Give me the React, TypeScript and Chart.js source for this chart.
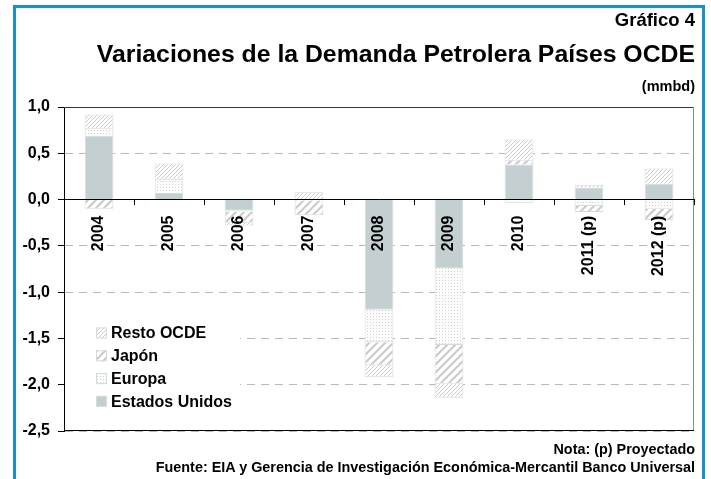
import React, { useEffect, useRef } from "react";
import { Chart, registerables } from "chart.js";

Chart.register(...registerables);

const categories = ["2004", "2005", "2006", "2007", "2008", "2009", "2010", "2011 (p)", "2012 (p)"];
const estadosUnidos = [0.69, 0.07, -0.12, 0.0, -1.19, -0.74, 0.38, 0.13, 0.17];
const europa = [0.08, 0.15, -0.01, -0.01, -0.35, -0.83, -0.04, -0.07, -0.1];
const japon = [-0.1, 0.01, -0.12, -0.16, -0.25, -0.42, 0.05, -0.065, -0.12];
const restoOCDE = [0.15, 0.16, -0.03, 0.08, -0.13, -0.15, 0.22, 0.03, 0.165];
const legendLabels = ["Resto OCDE", "Japón", "Europa", "Estados Unidos"];
const yMin = -2.5;
const yMax = 1.0;
const yStep = 0.5;

const FONT = "'Liberation Sans', Arial, Helvetica, sans-serif";
const US_COLOR = "#c3cfd0";
const BAR_BORDER = "#d2dcdd";

function makePattern(kind: string): CanvasPattern | string {
  const c = document.createElement("canvas");
  const ctx = c.getContext("2d");
  if (!ctx) return "#eee";
  if (kind === "fine") {
    c.width = 4;
    c.height = 4;
    ctx.fillStyle = "#ffffff";
    ctx.fillRect(0, 0, 4, 4);
    ctx.strokeStyle = "#cbcbcb";
    ctx.lineWidth = 1;
    ctx.beginPath();
    ctx.moveTo(-1, 5);
    ctx.lineTo(5, -1);
    ctx.moveTo(-1, 1);
    ctx.lineTo(1, -1);
    ctx.moveTo(3, 5);
    ctx.lineTo(5, 3);
    ctx.stroke();
  } else if (kind === "wide") {
    c.width = 8;
    c.height = 8;
    ctx.fillStyle = "#ffffff";
    ctx.fillRect(0, 0, 8, 8);
    ctx.strokeStyle = "#cacaca";
    ctx.lineWidth = 2;
    ctx.beginPath();
    ctx.moveTo(-1, 9);
    ctx.lineTo(9, -1);
    ctx.moveTo(-1, 1);
    ctx.lineTo(1, -1);
    ctx.moveTo(7, 9);
    ctx.lineTo(9, 7);
    ctx.stroke();
  } else {
    c.width = 3;
    c.height = 3;
    ctx.fillStyle = "#fcfcfc";
    ctx.fillRect(0, 0, 3, 3);
    ctx.fillStyle = "#d2d2d2";
    ctx.fillRect(1, 1, 1, 1);
  }
  const p = ctx.createPattern(c, "repeat");
  return p || "#eee";
}

export default function App() {
  const canvasRef = useRef<HTMLCanvasElement | null>(null);

  useEffect(() => {
    const canvas = canvasRef.current;
    if (!canvas) return;
    const finePat = makePattern("fine");
    const widePat = makePattern("wide");
    const dotPat = makePattern("dots");

    const legendFills = [finePat, widePat, dotPat, US_COLOR];

    const framePlugin = {
      id: "frame",
      beforeDatasetsDraw(chart: any) {
        const { ctx, chartArea } = chart;
        ctx.save();
        ctx.lineWidth = 1;
        ctx.setLineDash([]);
        ctx.strokeStyle = "#3a3a3a";
        ctx.beginPath();
        ctx.moveTo(chartArea.left, Math.round(chartArea.top) + 0.5);
        ctx.lineTo(chartArea.right, Math.round(chartArea.top) + 0.5);
        ctx.stroke();
        ctx.strokeStyle = "#8a8a8a";
        ctx.beginPath();
        ctx.moveTo(Math.round(chartArea.right) - 0.5, chartArea.top);
        ctx.lineTo(Math.round(chartArea.right) - 0.5, chartArea.bottom);
        ctx.stroke();
        ctx.strokeStyle = "#000";
        ctx.beginPath();
        ctx.moveTo(chartArea.left, Math.round(chartArea.bottom) - 0.5);
        ctx.lineTo(chartArea.right, Math.round(chartArea.bottom) - 0.5);
        ctx.stroke();
        ctx.restore();
      },
    };

    const legendPlugin = {
      id: "customLegend",
      afterDatasetsDraw(chart: any) {
        const { ctx, chartArea } = chart;
        const bx = chartArea.left + 1;
        const by = chartArea.top + 211;
        ctx.save();
        ctx.fillStyle = "#ffffff";
        ctx.fillRect(bx, by, 175, 95);
        legendLabels.forEach((label, i) => {
          const cy = by + 15 + i * 22.8;
          const sx = chartArea.left + 32;
          ctx.fillStyle = legendFills[i] as any;
          ctx.fillRect(sx, cy - 5.5, 11, 11);
          ctx.strokeStyle = BAR_BORDER;
          ctx.lineWidth = 1;
          ctx.strokeRect(sx + 0.5, cy - 5, 10, 10);
          ctx.fillStyle = "#000";
          ctx.font = `bold 16px ${FONT}`;
          ctx.textAlign = "left";
          ctx.textBaseline = "middle";
          ctx.fillText(label, sx + 15, cy + 1);
        });
        ctx.restore();
      },
    };

    const chart = new Chart(canvas, {
      type: "bar",
      data: {
        labels: categories,
        datasets: [
          { label: "Estados Unidos", data: estadosUnidos, backgroundColor: US_COLOR, borderColor: BAR_BORDER, borderWidth: 1 },
          { label: "Europa", data: europa, backgroundColor: dotPat as any, borderColor: BAR_BORDER, borderWidth: 1 },
          { label: "Japón", data: japon, backgroundColor: widePat as any, borderColor: BAR_BORDER, borderWidth: 1 },
          { label: "Resto OCDE", data: restoOCDE, backgroundColor: finePat as any, borderColor: BAR_BORDER, borderWidth: 1 },
        ],
      },
      options: {
        responsive: false,
        animation: false,
        devicePixelRatio: 1,
        layout: { padding: { top: 107, right: 17, bottom: 48, left: 0 } },
        datasets: { bar: { barPercentage: 0.41, categoryPercentage: 1 } },
        plugins: {
          legend: { display: false },
          title: { display: false },
          tooltip: { enabled: false },
        },
        scales: {
          x: {
            stacked: true,
            position: { y: 0 } as any,
            grid: {
              display: true,
              drawOnChartArea: false,
              drawTicks: true,
              tickLength: 5,
              tickColor: "#000",
              offset: true,
            },
            border: { display: true, color: "#000", width: 1, z: 1 },
            ticks: {
              z: 1,
              minRotation: 90,
              maxRotation: 90,
              padding: 11,
              color: "#000",
              autoSkip: false,
              font: { family: FONT, size: 16, weight: "bold" },
            },
          },
          y: {
            stacked: true,
            min: yMin,
            max: yMax,
            afterFit: (scale: any) => {
              scale.width = 64;
            },
            grid: {
              color: "#b9b9b9",
              lineWidth: 1,
              drawTicks: true,
              tickLength: 6,
              tickColor: "#000",
            },
            border: { display: true, color: "#000", width: 1, dash: [8, 6] },
            ticks: {
              stepSize: yStep,
              padding: 8,
              color: "#000",
              font: { family: FONT, size: 16, weight: "bold" },
              callback: (v: any) => Number(v).toFixed(1).replace(".", ","),
            },
          },
        },
      },
      plugins: [framePlugin, legendPlugin],
    });

    return () => {
      chart.destroy();
    };
  }, []);

  const textBase: React.CSSProperties = {
    position: "absolute",
    right: 16,
    fontFamily: FONT,
    fontWeight: "bold",
    color: "#000",
    whiteSpace: "nowrap",
    margin: 0,
  };

  return (
    <div
      style={{
        position: "fixed",
        left: 0,
        top: 0,
        width: 711,
        height: 479,
        background: "#fff",
        overflow: "hidden",
      }}
    >
      <canvas ref={canvasRef} width={711} height={479} style={{ position: "absolute", left: 0, top: 0 }} />
      <div
        style={{
          position: "absolute",
          left: 13,
          top: 5,
          width: 686,
          height: 500,
          border: "3px solid #1a90c8",
          pointerEvents: "none",
        }}
      />
      <div style={{ ...textBase, top: 11, fontSize: 18.5, lineHeight: "18px" }}>Gráfico 4</div>
      <div style={{ ...textBase, top: 41, fontSize: 24.8, lineHeight: "25px" }}>
        Variaciones de la Demanda Petrolera Países OCDE
      </div>
      <div style={{ ...textBase, top: 79, fontSize: 14.5, lineHeight: "15px" }}>(mmbd)</div>
      <div style={{ ...textBase, top: 442, fontSize: 14.4, lineHeight: "14px" }}>Nota: (p) Proyectado</div>
      <div style={{ ...textBase, top: 460, fontSize: 14.4, lineHeight: "14px" }}>
        Fuente: EIA y Gerencia de Investigación Económica-Mercantil Banco Universal
      </div>
    </div>
  );
}
